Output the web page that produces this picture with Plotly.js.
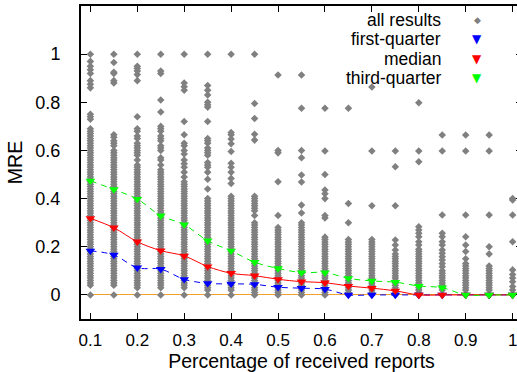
<!DOCTYPE html>
<html>
<head>
<meta charset="utf-8">
<script src="https://cdn.plot.ly/plotly-3.0.1.min.js"></script>
<style>
html,body{margin:0;padding:0;overflow:hidden;background:#fff;}
#chart{width:527px;height:372px;}
</style>
</head>
<body>
<div id="chart"></div>
<script>
// Percentage of received reports (x positions of the columns)
const pct = [0.1,0.15,0.2,0.25,0.3,0.35,0.4,0.45,0.5,0.55,0.6,0.65,0.7,0.75,0.8,0.85,0.9,0.95,1.0];

// MRE of all results, one array per percentage column (dense parts read at 0.01 resolution)
const c010 = [1,0.97,0.95,0.935,0.92,0.89,0.875,0.86,0.75,0.74,0.73,
  0.69,0.68,0.67,0.66,0.65,0.64,0.63,0.62,0.61,0.60,0.59,0.58,0.57,0.56,0.55,0.54,0.53,0.52,0.51,0.50,
  0.49,0.48,0.47,0.46,0.45,0.44,0.43,0.42,0.41,0.40,0.39,0.38,0.37,0.36,0.35,0.34,0.33,0.32,0.31,0.30,
  0.29,0.28,0.27,0.26,0.25,0.24,0.23,0.22,0.21,0.20,0.19,0.18,0.17,0.16,0.15,0.14,0.13,0.12,0.11,0.10,
  0.09,0.08,0.07,0.06,0.05,0.04,0];
const c015 = [1,0.965,0.925,0.92,0.89,0.88,0.665,0.655,0.64,0.63,0.62,
  0.60,0.59,0.58,0.57,0.56,0.55,0.54,0.53,0.52,0.51,0.50,
  0.49,0.48,0.47,0.46,0.45,0.44,0.43,0.42,0.41,0.40,0.39,0.38,0.37,0.36,0.35,0.34,0.33,0.32,0.31,0.30,
  0.29,0.28,0.27,0.26,0.25,0.24,0.23,0.22,0.21,0.20,0.19,0.18,0.17,0.16,0.15,0.14,0.13,0.12,0.11,0.10,
  0.09,0.08,0.07,0.06,0.05,0.04,0];
const c020 = [1,0.95,0.94,0.93,0.915,0.89,0.74,0.69,0.68,0.66,0.65,0.63,0.62,0.61,0.60,0.59,0.58,0.56,
  0.54,0.53,0.52,0.51,0.50,
  0.49,0.48,0.47,0.46,0.45,0.44,0.43,0.42,0.41,0.40,0.39,0.38,0.37,0.36,0.35,0.34,0.33,0.32,0.31,0.30,
  0.29,0.28,0.27,0.26,0.25,0.24,0.23,0.22,0.21,0.20,0.19,0.18,0.17,0.16,0.15,0.14,0.13,0.12,0.11,0.10,
  0.09,0.08,0.07,0.06,0.05,0.04,0.03,0];
const c025 = [1,0.93,0.92,0.81,0.76,0.70,0.69,0.68,0.66,0.65,0.64,0.62,0.61,0.60,0.57,0.56,0.54,
  0.52,0.51,0.50,
  0.49,0.48,0.47,0.46,0.45,0.44,0.43,0.42,0.41,0.40,0.39,0.38,0.37,0.36,0.35,0.34,0.33,0.32,0.31,0.30,
  0.29,0.28,0.27,0.26,0.25,0.24,0.23,0.22,0.21,0.20,0.19,0.18,0.17,0.16,0.15,0.14,0.13,0.12,0.11,0.10,
  0.09,0.08,0.07,0.06,0.05,0.04,0.03,0];
const c030 = [1,0.88,0.865,0.85,0.72,0.665,0.63,0.62,0.60,0.585,0.56,0.545,0.53,0.51,0.49,0.47,0.46,0.45,
  0.44,0.43,0.42,0.41,0.40,0.39,0.38,0.37,0.36,0.35,0.34,0.33,0.32,0.31,0.30,
  0.29,0.28,0.27,0.26,0.25,0.24,0.23,0.22,0.21,0.20,0.19,0.18,0.17,0.16,0.15,0.14,0.13,0.12,0.11,0.10,
  0.09,0.08,0.07,0.06,0.05,0.04,0.03,0];
const c035 = [1,0.87,0.85,0.83,0.80,0.79,0.78,0.72,0.65,0.64,0.63,0.61,0.60,0.59,0.58,0.55,0.54,0.53,0.51,0.48,0.44,
  0.40,0.39,0.38,0.37,0.36,0.35,0.34,0.33,0.32,0.31,0.30,
  0.29,0.28,0.27,0.26,0.25,0.24,0.23,0.22,0.21,0.20,0.19,0.18,0.17,0.16,0.15,0.14,0.13,0.12,0.11,0.10,
  0.09,0.08,0.07,0.06,0.05,0.04,0.03,0.02,0];
const c040 = [1,0.675,0.665,0.648,0.628,0.596,0.547,0.53,0.51,0.484,0.463,
  0.41,0.40,0.39,0.38,0.37,0.36,0.35,0.34,0.33,0.32,0.31,0.30,
  0.29,0.28,0.27,0.26,0.25,0.24,0.23,0.22,0.21,0.20,0.19,0.18,0.17,0.16,0.15,0.14,0.13,0.12,0.11,0.10,
  0.09,0.08,0.07,0.06,0.05,0.04,0.03,0.02,0];
const c045 = [1,0.795,0.733,0.667,0.643,0.41,0.40,0.39,0.38,0.37,0.36,0.35,0.33,
  0.30,0.29,0.28,0.27,0.26,0.25,0.24,0.23,0.22,0.21,0.20,0.19,0.18,0.17,0.16,0.15,0.14,0.13,0.12,0.11,0.10,
  0.09,0.08,0.07,0.06,0.05,0.04,0.03,0.02,0.01,0];
const c050 = [0.913,0.60,0.59,0.47,0.33,
  0.28,0.27,0.26,0.25,0.24,0.23,0.22,0.21,0.20,0.19,0.18,0.17,0.16,0.15,0.14,0.13,0.12,0.11,0.10,
  0.09,0.08,0.07,0.06,0.05,0.04,0.03,0.02,0.01,0];
const c055 = [0.913,0.775,0.60,0.57,0.498,0.469,0.373,0.34,
  0.30,0.29,0.28,0.27,0.26,0.25,0.24,0.23,0.22,0.21,0.20,0.19,0.18,0.17,0.16,0.15,0.14,0.13,0.12,0.11,0.10,
  0.09,0.08,0.07,0.06,0.05,0.04,0.03,0.02,0.01,0];
const c060 = [0.775,0.598,0.50,0.436,0.42,0.40,0.33,0.32,
  0.24,0.23,0.22,0.21,0.20,0.19,0.18,0.17,0.16,0.15,0.14,0.13,0.12,0.11,0.10,
  0.09,0.08,0.07,0.06,0.05,0.04,0.03,0.02,0.01,0];
const c065 = [0.775,0.38,0.30,
  0.23,0.22,0.21,0.20,0.19,0.18,0.17,0.16,0.15,0.14,0.13,0.12,0.11,0.10,
  0.09,0.08,0.07,0.06,0.05,0.04,0.03,0.02,0.01,0];
const c070 = [0.864,0.598,0.37,
  0.23,0.22,0.21,0.20,0.19,0.18,0.17,0.16,0.15,0.14,0.13,0.12,0.11,0.10,
  0.09,0.08,0.07,0.06,0.05,0.04,0.03,0.02,0.01,0];
const c075 = [0.598,0.532,0.37,0.228,0.207,0.187,
  0.17,0.16,0.15,0.14,0.13,0.12,0.11,0.10,0.09,0.08,0.07,0.06,0.05,0.04,0.03,0.02,0.01,0];
const c080 = [0.798,0.598,0.553,0.283,0.27,0.256,0.242,0.221,0.207,
  0.19,0.18,0.17,0.16,0.15,0.14,0.13,0.12,0.11,0.10,0.09,0.08,0.07,0.06,0.05,0.04,0.03,0.02,0.01,0];
const c085 = [0.664,0.598,0.332,0.256,0.242,0.221,0.207,0.187,0.173,0.159,0.145,0.13,0.117,
  0.10,0.09,0.08,0.07,0.06,0.05,0.04,0.03,0.02,0];
const c090 = [0.664,0.598,0.332,0.242,0.207,0.18,0.15,0.13,
  0.12,0.11,0.10,0.09,0.08,0.07,0.06,0.05,0.04,0.03,0.02,0];
const c095 = [0.664,0.598,0.332,0.20,0.17,
  0.12,0.11,0.10,0.09,0.08,0.07,0.06,0.05,0.04,0.03,0.02,0];
const c100 = [0.40,0.394,0.332,0.221,0.104,0.085,0.07,0.055,0.035,0.02,0];

// Quartile / median series
const firstQuarter = [0.183,0.166,0.113,0.107,0.065,0.048,0.046,0.044,0.032,0.028,0.024,0,0,0,0,0,0,0,0];
const median       = [0.318,0.279,0.221,0.184,0.162,0.118,0.090,0.080,0.065,0.055,0.051,0.037,0.028,0.017,0,0,0,0,0];
const thirdQuarter = [0.474,0.438,0.398,0.329,0.292,0.225,0.183,0.136,0.110,0.093,0.093,0.069,0.058,0.053,0.037,0.030,0,0,0];

// Tick labels
const xTickVals = [0.1,0.2,0.3,0.4,0.5,0.6,0.7,0.8,0.9,1.0];
const xTickText = ['0.1','0.2','0.3','0.4','0.5','0.6','0.7','0.8','0.9','1'];
const yTickVals = [0,0.2,0.4,0.6,0.8,1.0,1.2];
const yTickText = ['0','0.2','0.4','0.6','0.8','1','1.2'];

const legendNames = ['all results','first-quarter','median','third-quarter'];

const columns = [c010,c015,c020,c025,c030,c035,c040,c045,c050,c055,c060,c065,c070,c075,c080,c085,c090,c095,c100];
const allX = [], allY = [];
columns.forEach((col, i) => col.forEach(v => { allX.push(pct[i]); allY.push(v); }));

const FONT = 'Liberation Sans, Arial, Helvetica, sans-serif';
const dashPat = '6px,5px';

const traces = [
  {x: allX, y: allY, mode: 'markers', type: 'scatter', name: legendNames[0],
   marker: {symbol: 'diamond', size: 5.8, color: '#808080'}, hoverinfo: 'skip'},
  {x: pct, y: firstQuarter, mode: 'lines+markers', type: 'scatter', name: legendNames[1],
   line: {color: '#0000ff', width: 1, dash: dashPat, shape: 'spline', smoothing: 1},
   marker: {symbol: 'triangle-down', size: 8.5, color: '#0000ff'}},
  {x: pct, y: median, mode: 'lines+markers', type: 'scatter', name: legendNames[2],
   line: {color: '#ff0000', width: 1, shape: 'spline', smoothing: 1},
   marker: {symbol: 'triangle-down', size: 8.5, color: '#ff0000'}},
  {x: pct, y: thirdQuarter, mode: 'lines+markers', type: 'scatter', name: legendNames[3],
   line: {color: '#00ee00', width: 1, dash: dashPat, shape: 'spline', smoothing: 1},
   marker: {symbol: 'triangle-down', size: 8.5, color: '#00ff00'}}
];

// legend drawn as right-aligned text with the symbol to its right
const legRowsY = [0.955, 0.893, 0.831, 0.769];
const legSym = ['\u25C6','\u25BC','\u25BC','\u25BC'];
const legSymColor = ['#808080','#0000ff','#ff0000','#00ff00'];
const legSymSize = [9, 12, 12, 12];
const annotations = [];
legendNames.forEach((n, i) => {
  annotations.push({xref: 'paper', yref: 'paper', x: 0.819, y: legRowsY[i], xanchor: 'right', yanchor: 'middle',
    text: n, showarrow: false, borderpad: 0, font: {family: FONT, size: 17.5, color: '#000'}});
  annotations.push({xref: 'paper', yref: 'paper', x: 0.898, y: legRowsY[i], xanchor: 'center', yanchor: 'middle',
    text: legSym[i], showarrow: false, borderpad: 0, font: {family: 'DejaVu Sans', size: legSymSize[i], color: legSymColor[i]}});
});

const layout = {
  width: 527, height: 372,
  margin: {l: 81, r: 5, t: 6, b: 53, pad: 0},
  paper_bgcolor: '#fff', plot_bgcolor: '#fff',
  showlegend: false,
  font: {family: FONT, size: 17, color: '#000'},
  xaxis: {
    range: [0.08, 1.02], tickmode: 'array', tickvals: xTickVals, ticktext: xTickText,
    ticks: 'inside', ticklen: 6, tickwidth: 1, tickcolor: '#000',
    showline: true, linecolor: '#000', linewidth: 2, mirror: 'ticks',
    showgrid: false, zeroline: false,
    tickfont: {family: FONT, size: 17, color: '#000'},
    ticklabelstandoff: 5,
    title: {text: 'Percentage of received reports', font: {family: FONT, size: 19.5, color: '#000'}, standoff: 0},
    automargin: false
  },
  yaxis: {
    range: [-0.1, 1.2], tickmode: 'array', tickvals: yTickVals, ticktext: yTickText,
    ticks: 'inside', ticklen: 6, tickwidth: 1, tickcolor: '#000',
    showline: true, linecolor: '#000', linewidth: 2, mirror: 'ticks',
    showgrid: false, zeroline: true, zerolinecolor: '#f0a030', zerolinewidth: 1,
    tickfont: {family: FONT, size: 18, color: '#000'},
    ticklabelstandoff: 15,
    title: {text: 'MRE', font: {family: FONT, size: 19.5, color: '#000'}, standoff: 8},
    automargin: false
  },
  annotations: annotations
};

Plotly.newPlot('chart', traces, layout, {staticPlot: true, displayModeBar: false});
</script>
</body>
</html>
